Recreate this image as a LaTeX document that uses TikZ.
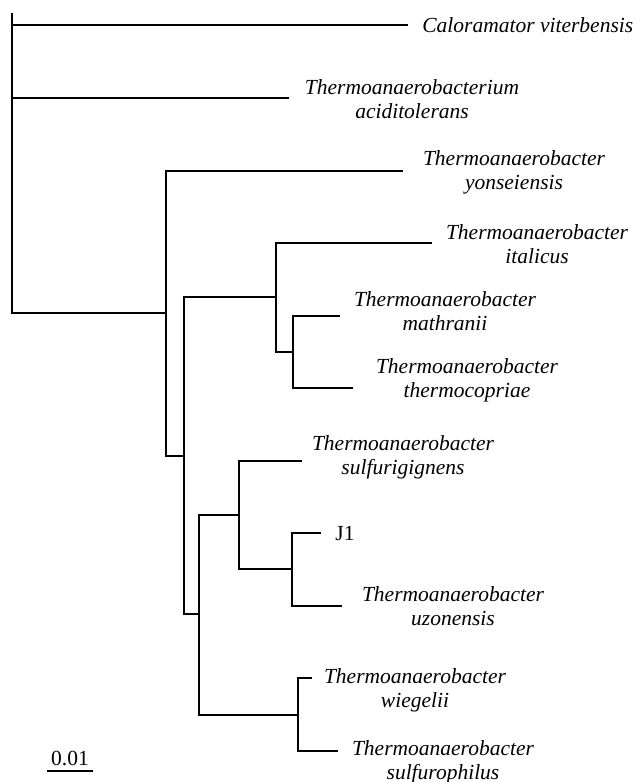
\documentclass[tikz,border=0pt]{standalone}
\usepackage{fontspec}
\setmainfont{Liberation Serif}
\usepackage{tikz}

\begin{document}
\begin{tikzpicture}[x=0.5pt,y=-0.5pt]
        \useasboundingbox (0,0) rectangle (635,782);
        \tikzstyle{every node} = [inner sep=0pt, align=center, font=\itshape\fontsize{10.75}{12}\selectfont]
        \tikzstyle{branch} = [line width=0.6pt]
        % inner nodes
        \coordinate (0) at (12,13);
        \coordinate (1) at (166,313);
        \coordinate (2) at (184,456);
        \coordinate (3) at (276,297);
        \coordinate (4) at (293,352);
        \coordinate (5) at (199,614);
        \coordinate (6) at (239,515);
        \coordinate (7) at (292,569);
        \coordinate (8) at (298,715);
        % tips
        \coordinate (cal) at (408,25);
        \coordinate (aci) at (289,98);
        \coordinate (yon) at (403,171);
        \coordinate (ita) at (432,243);
        \coordinate (mat) at (340,316);
        \coordinate (the) at (353,388);
        \coordinate (suf) at (302,461);
        \coordinate (j1) at (321,533);
        \coordinate (uzo) at (342,606);
        \coordinate (wie) at (312,678);
        \coordinate (sph) at (338,751);
        % names
        \node[anchor=west] (lcal) at (422,25) {Caloramator viterbensis};
        \node (laci) at (412,99) {Thermoanaerobacterium\\aciditolerans};
        \node (lyon) at (514,172) {Thermoanaerobacter\\yonseiensis};
        \node (lita) at (537,244) {Thermoanaerobacter\\italicus};
        \node (lmat) at (445,311) {Thermoanaerobacter\\mathranii};
        \node (lthe) at (467,380) {Thermoanaerobacter\\thermocopriae};
        \node (lsuf) at (403,457) {Thermoanaerobacter\\sulfurigignens};
        \node[anchor=west, font=\upshape\fontsize{10.75}{12}\selectfont] (lj1) at (335,533) {J1};
        \node (luzo) at (453,606) {Thermoanaerobacter\\uzonensis};
        \node (lwie) at (415,690) {Thermoanaerobacter\\wiegelii};
        \node (lsph) at (443,762) {Thermoanaerobacter\\sulfurophilus};

        \foreach \from/\to in {0/cal, 0/aci, 0/1, 1/yon, 1/2, 2/3, 2/5, 3/ita, 3/4, 4/mat, 4/the,
                               5/6, 5/8, 6/suf, 6/7, 7/j1, 7/uzo, 8/wie, 8/sph}
            \draw[branch] (\from) |- (\to);

        % scale bar
        \coordinate (s0) at (47,771);
        \coordinate (s1) at (93,771);
        \draw[branch] (s0) -- (s1);
        \node[anchor=south, font=\upshape\fontsize{10.75}{12}\selectfont] (lbar) at (70,766) {0.01};
\end{tikzpicture}
\end{document}
